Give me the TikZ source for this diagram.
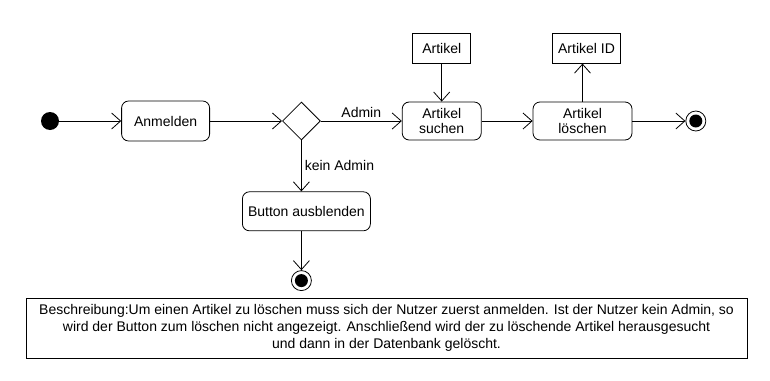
\documentclass[tikz,border=0pt]{standalone}
\usepackage{fontspec}
\setmainfont{Liberation Sans}
\usetikzlibrary{positioning,shapes.geometric,arrows.meta}

\begin{document}
\begin{tikzpicture}[
    x=1pt, y=1pt,
    font=\fontsize{14}{15}\selectfont,
    action/.style={rectangle, rounded corners=7pt, draw, line width=0.8pt,
                   minimum height=38pt, align=center, inner sep=2pt},
    object/.style={rectangle, draw, line width=0.8pt, minimum height=30pt, inner sep=2pt},
    decision/.style={diamond, draw, line width=0.8pt, minimum size=38pt, inner sep=0pt},
    initial/.style={circle, fill=black, minimum size=18pt, inner sep=0pt},
    final/.style={circle, draw, line width=0.8pt, minimum size=20pt, inner sep=0pt,
                  path picture={\fill (path picture bounding box.center) circle (6.5pt);}},
    flow/.style={-{Straight Barb[length=9pt, width=16pt, line width=0.8pt]}, line width=0.8pt},
]
    \useasboundingbox (0,0) rectangle (770,-380);

    % main flow
    \node[initial] (start) at (50,-121) {};
    \node[action, minimum width=88pt, minimum height=40pt, right=62pt of start] (login) {Anmelden};
    \node[decision, right=72pt of login] (admin) {};
    \node[action, minimum width=79pt, right=81pt of admin] (search) {Artikel\\suchen};
    \node[action, minimum width=99pt, right=51pt of search] (delete) {Artikel\\löschen};
    \node[final, right=53pt of delete] (stop) {};

    % objects
    \node[object, minimum width=58pt, above=38pt of search] (item) {Artikel};
    \node[object, minimum width=68pt, above=38pt of delete, xshift=4pt] (itemid) {Artikel ID};

    % no admin branch
    \node[action, minimum width=128pt, minimum height=39pt, below=51pt of admin, xshift=5pt] (hide) {Button ausblenden};
    \node[final, below=39pt of hide, xshift=-5pt] (stophide) {};

    \draw[flow] (start) -- (login);
    \draw[flow] (login) -- (admin);
    \draw[flow] (admin) -- node[above, inner sep=3pt] {Admin} (search);
    \draw[flow] (search) -- (delete);
    \draw[flow] (delete) -- (stop);
    \draw[flow] (item) -- (search);
    \draw[flow] (delete.north -| itemid.south) ++(-4,0) coordinate (up) -- (up |- itemid.south);
    \draw[flow] (admin) -- node[right, inner sep=3pt] {kein Admin} (admin |- hide.north);
    \draw[flow] (hide.south -| stophide) -- (stophide);

    % description
    \node[draw, line width=0.8pt, minimum width=721pt, minimum height=60pt, align=center,
          font=\fontsize{14}{17}\selectfont] (desc) at (386.5,-328)
        {Beschreibung:Um einen Artikel zu löschen muss sich der Nutzer zuerst anmelden. Ist der Nutzer kein Admin, so\\
         wird der Button zum löschen nicht angezeigt. Anschließend wird der zu löschende Artikel herausgesucht\\
         und dann in der Datenbank gelöscht.};
\end{tikzpicture}
\end{document}
